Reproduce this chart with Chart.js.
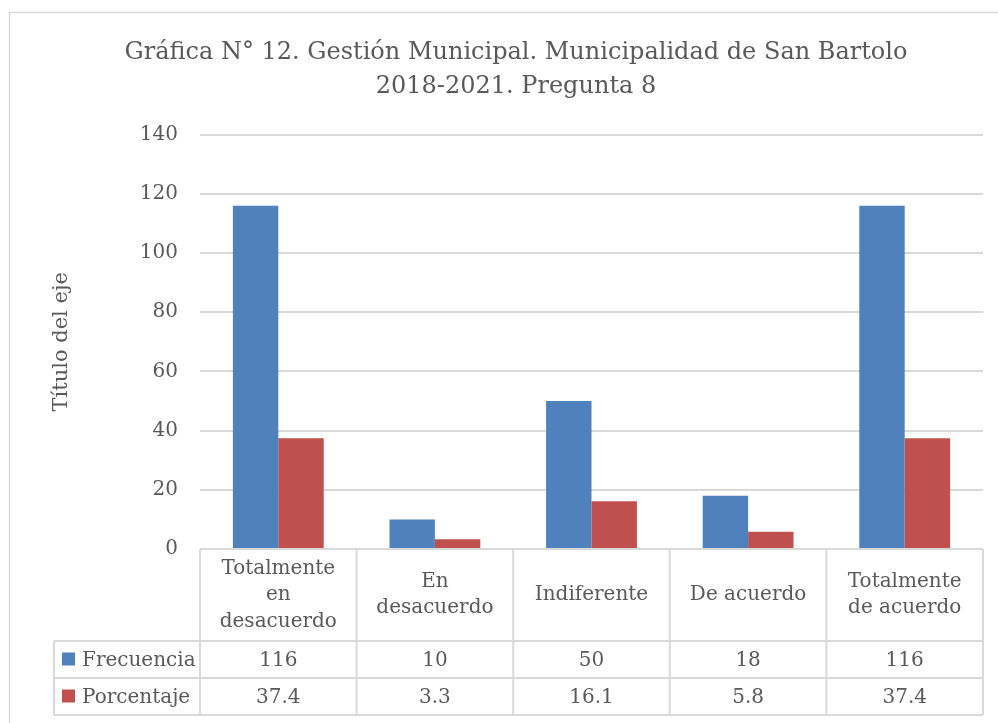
<!DOCTYPE html>
<html>
<head>
<meta charset="utf-8">
<script src="https://cdn.jsdelivr.net/npm/chart.js@4.4.0/dist/chart.umd.min.js"></script>
<style>
  html, body { margin: 0; padding: 0; background: #fff; }
  #wrap { width: 998px; height: 723px; position: relative; }
</style>
</head>
<body>
<div id="wrap"><canvas id="grafico" width="998" height="723"></canvas></div>
<script>
// Datos de la gráfica
const categorias = [
    ['Totalmente', 'en', 'desacuerdo'],
    ['En', 'desacuerdo'],
    ['Indiferente'],
    ['De acuerdo'],
    ['Totalmente', 'de acuerdo']
];
const frecuencia = [116, 10, 50, 18, 116];
const porcentaje = [37.4, 3.3, 16.1, 5.8, 37.4];
const textoFrecuencia = ['116', '10', '50', '18', '116'];
const textoPorcentaje = ['37.4', '3.3', '16.1', '5.8', '37.4'];

const AZUL = '#4F81BD';
const ROJO = '#C0504D';
const GRIS_TEXTO = '#595959';
const GRIS_LINEA = '#D9D9D9';
const FUENTE = '"DejaVu Serif", serif';

// Tabla de datos debajo del gráfico + borde exterior
const tablaDatos = {
    id: 'tablaDatos',
    afterDraw(chart) {
        const ctx = chart.ctx;
        const x = chart.scales.x;
        const area = chart.chartArea;
        const n = categorias.length;
        const paso = (area.right - area.left) / n;
        const yTop = area.bottom;
        const yFila1 = yTop + 92;
        const yFila2 = yFila1 + 37;
        const yFin = yFila2 + 37;
        const xIzq = 54;

        ctx.save();
        // borde exterior del gráfico
        ctx.strokeStyle = GRIS_LINEA;
        ctx.lineWidth = 1.5;
        ctx.strokeRect(9.5, 12.5, 1000, 800);

        ctx.strokeStyle = GRIS_LINEA;
        ctx.lineWidth = 2;
        ctx.beginPath();
        ctx.moveTo(area.left, yTop); ctx.lineTo(area.right, yTop);
        [yFila1, yFila2, yFin].forEach(y => { ctx.moveTo(xIzq, y); ctx.lineTo(area.right, y); });
        for (let i = 0; i <= n; i++) {
            const xx = area.left + i * paso;
            ctx.moveTo(xx, yTop); ctx.lineTo(xx, yFin);
        }
        ctx.moveTo(xIzq, yFila1); ctx.lineTo(xIzq, yFin);
        ctx.stroke();

        ctx.fillStyle = GRIS_TEXTO;
        ctx.font = '20px ' + FUENTE;
        ctx.textAlign = 'center';
        ctx.textBaseline = 'middle';
        const centroCab = (yTop + yFila1) / 2;
        categorias.forEach((lineas, i) => {
            const cx = x.getPixelForValue(i);
            const alto = 26.5;
            lineas.forEach((t, j) => {
                ctx.fillText(t, cx, centroCab + (j - (lineas.length - 1) / 2) * alto);
            });
            ctx.fillText(textoFrecuencia[i], cx, (yFila1 + yFila2) / 2 + 1);
            ctx.fillText(textoPorcentaje[i], cx, (yFila2 + yFin) / 2 + 1);
        });

        // leyenda en la tabla
        const filas = [
            { nombre: 'Frecuencia', color: AZUL, y: (yFila1 + yFila2) / 2 },
            { nombre: 'Porcentaje', color: ROJO, y: (yFila2 + yFin) / 2 }
        ];
        ctx.textAlign = 'left';
        filas.forEach(f => {
            ctx.fillStyle = f.color;
            ctx.fillRect(62, f.y - 7, 13, 13);
            ctx.fillStyle = GRIS_TEXTO;
            ctx.fillText(f.nombre, 82, f.y + 1);
        });
        ctx.restore();
    }
};

const ctx = document.getElementById('grafico').getContext('2d');
const chart = new Chart(ctx, {
    type: 'bar',
    data: {
        labels: categorias.map(c => c.join(' ')),
        datasets: [
            { label: 'Frecuencia', data: frecuencia, backgroundColor: AZUL },
            { label: 'Porcentaje', data: porcentaje, backgroundColor: ROJO }
        ]
    },
    options: {
        responsive: false,
        animation: false,
        datasets: { bar: { categoryPercentage: 0.58, barPercentage: 1.0 } },
        layout: { padding: { left: 49, right: 15, top: 0, bottom: 0 } },
        plugins: {
            legend: { display: false },
            tooltip: { enabled: false },
            title: {
                display: true,
                text: ['Gráfica N° 12. Gestión Municipal. Municipalidad de San Bartolo', '2018-2021. Pregunta 8'],
                color: GRIS_TEXTO,
                font: { family: FUENTE, size: 24, weight: 'normal', lineHeight: 1.45 },
                padding: { top: 35, bottom: 30 }
            }
        },
        scales: {
            x: {
                grid: { display: false },
                border: { display: false },
                ticks: { display: false },
                afterFit(s) { s.height = 174; }
            },
            y: {
                min: 0,
                max: 140,
                ticks: { stepSize: 20, color: GRIS_TEXTO, padding: 22, font: { family: FUENTE, size: 20 } },
                grid: { color: GRIS_LINEA, lineWidth: 2, drawTicks: false },
                border: { display: false },
                title: {
                    display: true,
                    text: 'Título del eje',
                    color: GRIS_TEXTO,
                    font: { family: FUENTE, size: 21, weight: 'normal' },
                    padding: 0
                },
                afterFit(s) { s.width = 200 - 49; }
            }
        }
    },
    plugins: [tablaDatos]
});
</script>
</body>
</html>
